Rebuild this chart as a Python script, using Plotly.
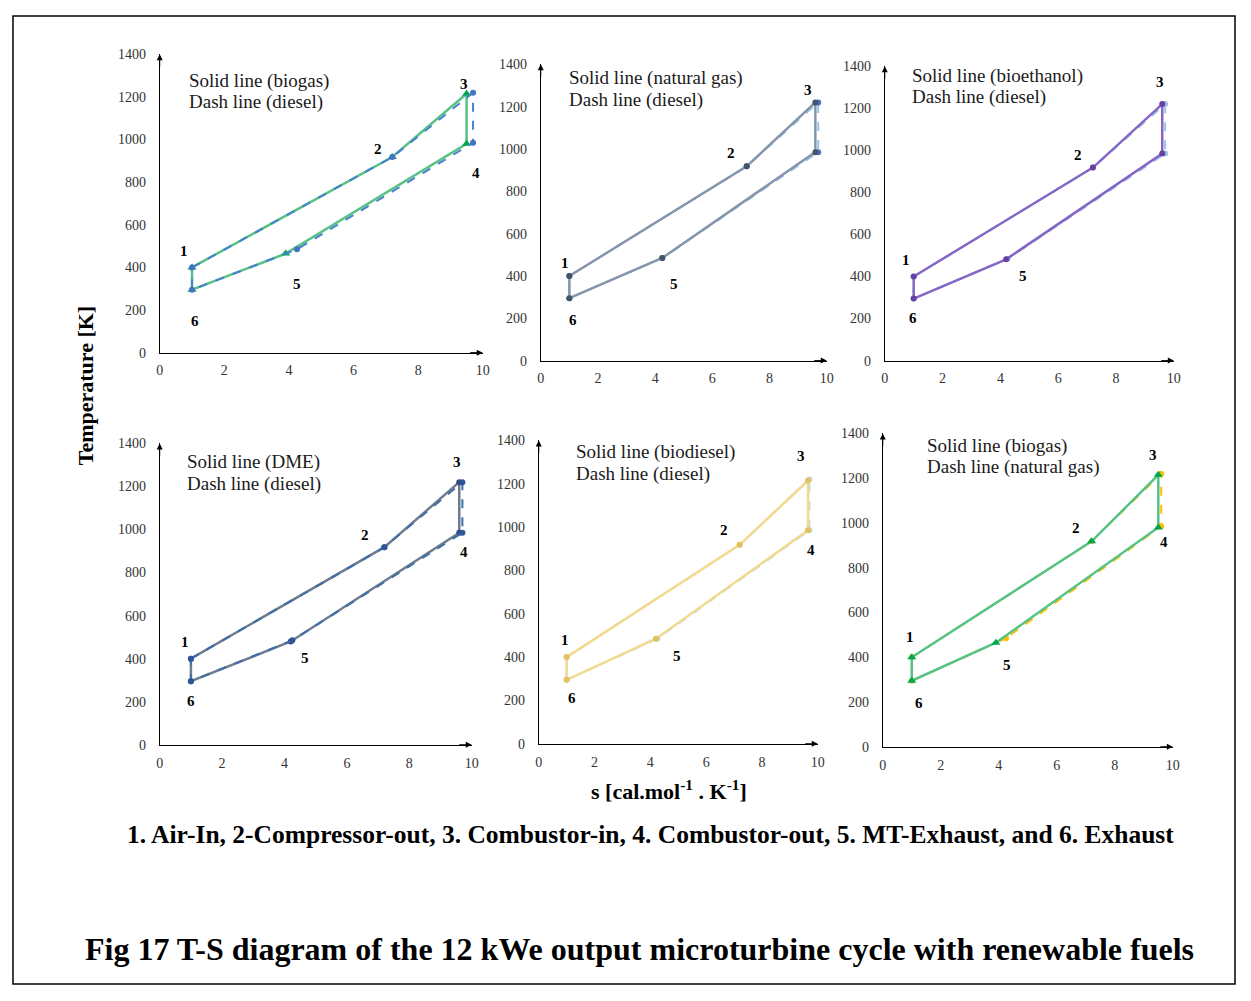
import plotly.graph_objects as go

# Figure size; screen positions below are converted with a measured calibration
W, H = 1235, 985
CX_OFF, CX_SC = 11.3, 0.991
CY_OFF, CY_SC = 13.6, 0.987


def px(X):
    return (X - CX_OFF) / CX_SC / W


def py(Y):
    return 1 - (Y - CY_OFF) / CY_SC / H


# ---------------- data (entropy s, temperature T) for states 1..6 ----------------
point_names = ["1", "2", "3", "4", "5", "6"]

s_diesel = [1.0, 7.2, 9.7, 9.7, 4.25, 1.0]
T_diesel = [400, 918, 1220, 985, 485, 295]

s_biogas = [1.0, 7.2, 9.5, 9.5, 3.9, 1.0]
T_biogas = [400, 918, 1215, 980, 465, 295]

s_natgas = [1.0, 7.2, 9.6, 9.6, 4.25, 1.0]
T_natgas = [400, 918, 1220, 985, 485, 295]

s_bioeth = [1.0, 7.2, 9.6, 9.6, 4.2, 1.0]
T_bioeth = [400, 918, 1220, 985, 482, 295]

s_dme = [1.0, 7.2, 9.6, 9.6, 4.2, 1.0]
T_dme = [400, 918, 1220, 985, 480, 295]

s_biodsl = [1.0, 7.2, 9.65, 9.65, 4.2, 1.0]
T_biodsl = [400, 918, 1215, 985, 485, 295]

x_ticks = [0, 2, 4, 6, 8, 10]
y_ticks = [0, 200, 400, 600, 800, 1000, 1200, 1400]

solid_names = ["biogas", "natural gas", "bioethanol", "DME", "biodiesel", "biogas"]
dash_names = ["diesel", "diesel", "diesel", "diesel", "diesel", "natural gas"]

solid_data = [(s_biogas, T_biogas), (s_natgas, T_natgas), (s_bioeth, T_bioeth),
              (s_dme, T_dme), (s_biodsl, T_biodsl), (s_biogas, T_biogas)]
dash_data = [(s_diesel, T_diesel), (s_diesel, T_diesel), (s_diesel, T_diesel),
             (s_diesel, T_diesel), (s_diesel, T_diesel), (s_natgas, T_natgas)]

# ---------------- styles ----------------
solid_line_col = ["#56c283", "#8595ab", "#8466c6", "#6f7c8e", "#f3d98e", "#56c283"]
solid_mk_col = ["#00a651", "#44546a", "#6a3fa3", "#2f4b7c", "#e2c25e", "#00a651"]
solid_symbol = ["triangle-up", "circle", "circle", "circle", "circle", "triangle-up"]
dash_line_col = ["#4a80d0", "#9dc3e6", "#9dc3e6", "#3f6fa8", "#bdd7ee", "#ffc000"]
dash_mk_col = ["#4472c4", "#4472c4", "#9dc3e6", "#2f5597", "#bdd7ee", "#ffc000"]
dash_on_top = [True, False, False, True, False, False]

# panel pixel boxes (screen px): (x at s=0, x at s=10, y at T=0, y at T=1400)
boxes = [(159, 482, 352, 53), (540, 826, 360, 63), (884, 1173, 360, 65),
         (159, 471, 745, 443), (538, 817, 744, 440), (882, 1172, 747, 433)]

# legend-like notes (screen px: left edge, center y line1, center y line2)
note_pos = [(186, 80, 101), (566, 77, 99), (909, 75, 96),
            (184, 462, 484), (573, 452, 474), (924, 446, 467)]

# label pixel offsets (dx, dy-up) for each point, per panel; None = not shown
label_off = [
    [(-8, 16), (-14, 8), (-3, 10), (9, -29), (11, -30), (3, -31)],
    [(-4, 13), (-16, 13), (-7, 12), None, (12, -26), (4, -22)],
    [(-8, 17), (-15, 13), (-2, 22), None, (17, -17), (-1, -19)],
    [(-6, 17), (-19, 12), (-2, 20), (5, -19), (14, -17), (0, -20)],
    [(-2, 17), (-16, 15), (-7, 25), (3, -20), (21, -17), (5, -18)],
    [(-2, 20), (-16, 13), (-5, 20), (6, -15), (11, -22), (7, -22)],
]

SERIF = "Liberation Serif, Times New Roman, serif"
TXT = "#1a1a1a"
TICK = "#333333"

fig = go.Figure()
layout_axes = {}
annotations = []

cycle = [0, 1, 2, 3, 4, 5, 0]

for i in range(6):
    n = i + 1
    xa = "x" if n == 1 else f"x{n}"
    ya = "y" if n == 1 else f"y{n}"
    x0, x1, y0, y1 = boxes[i]

    ss, ts = solid_data[i]
    sd, td = dash_data[i]

    def add_dash():
        fig.add_trace(go.Scatter(
            x=[sd[k] for k in cycle], y=[td[k] for k in cycle], mode="lines",
            line=dict(color=dash_line_col[i], width=2, dash="dash"),
            xaxis=xa, yaxis=ya, showlegend=False, hoverinfo="skip", name=dash_names[i]))
        fig.add_trace(go.Scatter(
            x=sd, y=td, mode="markers",
            marker=dict(color=dash_mk_col[i], size=6, symbol="circle"),
            xaxis=xa, yaxis=ya, showlegend=False, name=dash_names[i]))

    def add_solid():
        fig.add_trace(go.Scatter(
            x=[ss[k] for k in cycle], y=[ts[k] for k in cycle], mode="lines",
            line=dict(color=solid_line_col[i], width=2.5),
            xaxis=xa, yaxis=ya, showlegend=False, hoverinfo="skip", name=solid_names[i]))
        fig.add_trace(go.Scatter(
            x=ss, y=ts, mode="markers",
            marker=dict(color=solid_mk_col[i],
                        size=8 if solid_symbol[i] == "triangle-up" else 6,
                        symbol=solid_symbol[i]),
            xaxis=xa, yaxis=ya, showlegend=False, name=solid_names[i]))

    if dash_on_top[i]:
        add_solid(); add_dash()
    else:
        add_dash(); add_solid()

    common = dict(showgrid=False, zeroline=False, showline=True, linecolor="black",
                  linewidth=1, ticks="", tickfont=dict(family=SERIF, size=14, color=TICK),
                  fixedrange=True)
    layout_axes["xaxis" if n == 1 else f"xaxis{n}"] = dict(
        common, domain=[px(x0), px(x1)], range=[0, 10], tickvals=x_ticks,
        anchor=ya, ticklabelstandoff=5)
    layout_axes["yaxis" if n == 1 else f"yaxis{n}"] = dict(
        common, domain=[py(y0), py(y1)], range=[0, 1400], tickvals=y_ticks,
        anchor=xa, ticklabelstandoff=10)

    # axis arrows
    annotations.append(dict(x=10, y=0, xref=xa, yref=ya, ax=-14, ay=0, showarrow=True,
                            arrowhead=2, arrowsize=1.2, arrowwidth=1, arrowcolor="black", text=""))
    annotations.append(dict(x=0, y=1400, xref=xa, yref=ya, ax=0, ay=14, showarrow=True,
                            arrowhead=2, arrowsize=1.2, arrowwidth=1, arrowcolor="black", text=""))

    # notes
    nx, ny1, ny2 = note_pos[i]
    annotations.append(dict(x=px(nx), y=py(ny1), xref="paper", yref="paper",
                            xanchor="left", yanchor="middle", showarrow=False,
                            text=f"Solid line ({solid_names[i]})",
                            font=dict(family=SERIF, size=19, color=TXT)))
    annotations.append(dict(x=px(nx), y=py(ny2), xref="paper", yref="paper",
                            xanchor="left", yanchor="middle", showarrow=False,
                            text=f"Dash line ({dash_names[i]})",
                            font=dict(family=SERIF, size=19, color=TXT)))

    # point labels
    for k, off in enumerate(label_off[i]):
        if off is None:
            continue
        annotations.append(dict(x=ss[k], y=ts[k], xref=xa, yref=ya, showarrow=False,
                                xanchor="center", yanchor="middle",
                                text=f"<b>{point_names[k]}</b>", xshift=off[0], yshift=off[1],
                                font=dict(family=SERIF, size=15, color="black")))

# titles / captions
annotations.append(dict(x=px(85), y=py(385), xref="paper", yref="paper", showarrow=False,
                        xanchor="center", yanchor="middle",
                        text="<b>Temperature [K]</b>", textangle=-90,
                        font=dict(family=SERIF, size=22, color="black")))
annotations.append(dict(x=px(668), y=py(790), xref="paper", yref="paper", showarrow=False,
                        xanchor="center", yanchor="middle",
                        text="<b>s [cal.mol<sup>-1</sup> . K<sup>-1</sup>]</b>",
                        font=dict(family=SERIF, size=22, color="black")))
annotations.append(dict(x=px(650), y=py(835), xref="paper", yref="paper", showarrow=False,
                        xanchor="center", yanchor="middle",
                        text="<b>1. Air-In, 2-Compressor-out, 3. Combustor-in, 4. Combustor-out, 5. MT-Exhaust, and 6. Exhaust</b>",
                        font=dict(family=SERIF, size=25.5, color="black")))
annotations.append(dict(x=px(639), y=py(950), xref="paper", yref="paper", showarrow=False,
                        xanchor="center", yanchor="middle",
                        text="<b>Fig 17 T-S diagram of the 12 kWe output microturbine cycle with renewable fuels</b>",
                        font=dict(family=SERIF, size=32, color="black")))

fig.update_layout(
    width=W, height=H, margin=dict(l=0, r=0, t=0, b=0),
    paper_bgcolor="white", plot_bgcolor="white",
    annotations=annotations,
    shapes=[dict(type="rect", xref="paper", yref="paper", x0=0.0008, x1=0.9992,
                 y0=0.001, y1=0.999, line=dict(color="black", width=1.5))],
    **layout_axes,
)

fig.write_html("out.html")
